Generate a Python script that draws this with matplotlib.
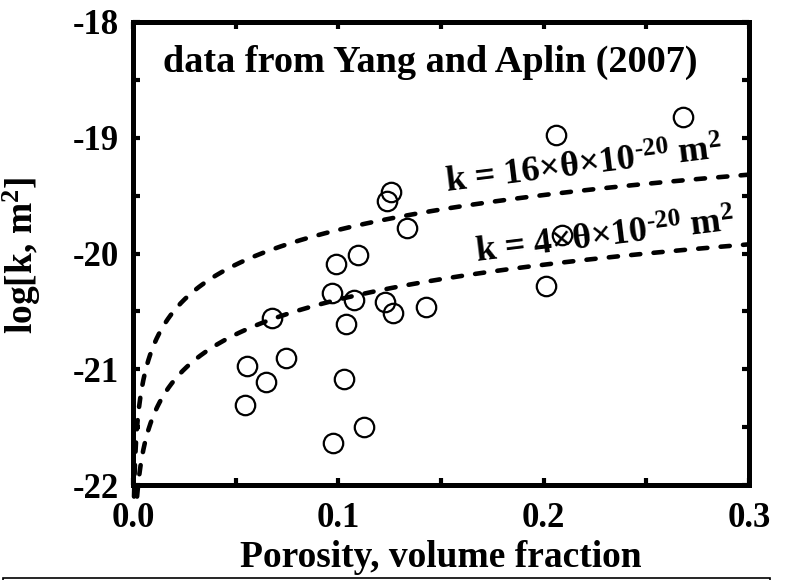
import numpy as np
import matplotlib
matplotlib.use("Agg")
import matplotlib.pyplot as plt
from matplotlib.patches import Rectangle

# Measured porosity (volume fraction) and log10 permeability (m^2)
porosity = [0.0675, 0.0745, 0.0554, 0.0646, 0.0547,
            0.1255, 0.1239, 0.1336, 0.1098, 0.0987, 0.0968, 0.1078,
            0.1227, 0.1268, 0.1427, 0.1037, 0.1028, 0.1126, 0.0976,
            0.2060, 0.2681, 0.2090, 0.2010]
log_perm = [-20.56, -20.90, -20.97, -21.11, -21.31,
            -19.47, -19.55, -19.78, -20.01, -20.09, -20.34, -20.40,
            -20.42, -20.51, -20.46, -20.61, -21.08, -21.50, -21.64,
            -18.98, -18.82, -19.84, -20.28]

# Model prefactors: k = c * theta * 1e-20 m^2
model_coeffs = [16, 4]
model_labels = ["k = 16×θ×10$^{\\text{-20}}$ m$^{2}$",
                "k = 4×θ×10$^{\\text{-20}}$ m$^{2}$"]

x_ticks = [0.0, 0.1, 0.2, 0.3]
x_ticklabels = ["0.0", "0.1", "0.2", "0.3"]
y_ticks = [-22, -21, -20, -19, -18]
y_ticklabels = ["-22", "-21", "-20", "-19", "-18"]

plt.rcParams["font.family"] = ["Liberation Serif", "DejaVu Serif"]
plt.rcParams["font.weight"] = "bold"
plt.rcParams["mathtext.fontset"] = "custom"
plt.rcParams["mathtext.rm"] = "Liberation Serif:bold"
plt.rcParams["mathtext.bf"] = "Liberation Serif:bold"
plt.rcParams["mathtext.it"] = "Liberation Serif:bold"
plt.rcParams["mathtext.default"] = "rm"

fig = plt.figure(figsize=(7.87, 5.80), dpi=100)
ax = fig.add_axes([133 / 787, 95 / 580, 616 / 787, 463 / 580])

# Model curves
for c in model_coeffs:
    theta0 = 10 ** (-2.1) / c
    theta = np.geomspace(theta0, 0.3, 400)
    ax.plot(theta, np.log10(c * theta) - 20, color="black", lw=3.3,
            linestyle=(0, (2.0, 2.9)), dash_capstyle="round", clip_on=False,
            zorder=2)

# Data points
ax.plot(porosity, log_perm, linestyle="none", marker="o", markersize=14,
        markerfacecolor="none", markeredgecolor="black", markeredgewidth=1.6,
        zorder=3)

ax.set_xlim(0.0, 0.3)
ax.set_ylim(-22, -18)
ax.set_xticks(x_ticks)
ax.set_xticklabels(x_ticklabels)
ax.set_yticks(y_ticks)
ax.set_yticklabels(y_ticklabels)
ax.set_xticks(np.arange(0.05, 0.3, 0.1), minor=True)
ax.set_yticks(np.arange(-21.5, -18, 1.0), minor=True)

for s in ax.spines.values():
    s.set_linewidth(3.6)
ax.tick_params(which="both", direction="in", top=True, right=True,
               width=3.0, length=5, labelsize=25)
ax.tick_params(axis="x", pad=12)
ax.tick_params(axis="y", pad=10)

ax.set_xlabel("Porosity, volume fraction", fontsize=27, fontweight="bold",
              labelpad=4)
ax.set_ylabel("log[k, m$^{2}$]", fontsize=27, fontweight="bold")
ax.yaxis.set_label_coords(-0.146, 0.495)

ax.text(0.145, -18.43, "data from Yang and Aplin (2007)", fontsize=27.5,
        fontweight="bold", ha="center", va="baseline")

ax.text(0.153, -19.48, model_labels[0], fontsize=26, rotation=7,
        rotation_mode="anchor", ha="left", va="baseline")
ax.text(0.1675, -20.08, model_labels[1], fontsize=26, rotation=7,
        rotation_mode="anchor", ha="left", va="baseline")

# Frame edge along the bottom of the figure
fig.patches.append(Rectangle((3 / 787, -0.05), 767 / 787, 0.05 + 2 / 580,
                             transform=fig.transFigure, fill=False,
                             edgecolor="black", linewidth=1.2))

fig.savefig("out.png", dpi=100)
